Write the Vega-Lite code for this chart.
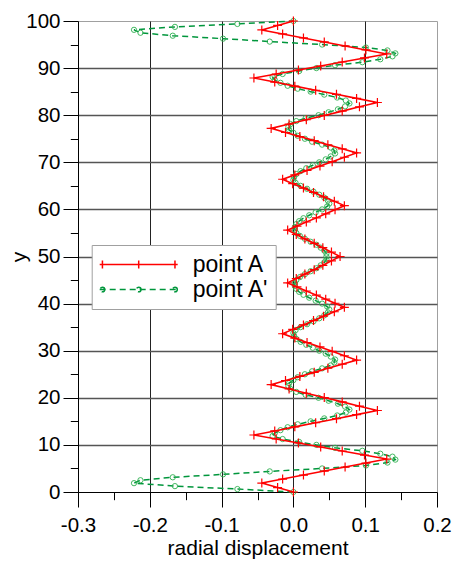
{
"$schema": "https://vega.github.io/schema/vega-lite/v6.json",
"autosize": {"type": "none"},
"padding": {"left": 78, "top": 21, "right": 19, "bottom": 70},
"width": 359,
"height": 471,
"config": {
  "font": "Liberation Sans",
  "view": {"stroke": "#a0a0a0"},
  "axis": {"domainColor": "black", "tickColor": "black", "gridColor": "black", "labelColor": "black", "titleColor": "black", "labelFontSize": 20.5, "titleFontSize": 21, "titleFontWeight": "normal", "labelFlush": false, "labelOverlap": false, "tickWidth": 1, "domainWidth": 1}
},
"data": {"values": [
{"s":"point A","y":0,"x":0},{"s":"point A","y":0.95,"x":-0.022},{"s":"point A","y":1.9,"x":-0.044},
{"s":"point A","y":2.75,"x":-0.015},{"s":"point A","y":3.6,"x":0.014},{"s":"point A","y":4.45,"x":0.043},{"s":"point A","y":5.3,"x":0.072},{"s":"point A","y":6.15,"x":0.101},{"s":"point A","y":7.0,"x":0.130},
{"s":"point A","y":7.85,"x":0.099},{"s":"point A","y":8.7,"x":0.068},{"s":"point A","y":9.55,"x":0.038},{"s":"point A","y":10.4,"x":0.007},{"s":"point A","y":11.25,"x":-0.024},{"s":"point A","y":12.1,"x":-0.055},
{"s":"point A","y":12.97,"x":-0.026},{"s":"point A","y":13.83,"x":0.002},{"s":"point A","y":14.7,"x":0.031},{"s":"point A","y":15.57,"x":0.060},{"s":"point A","y":16.43,"x":0.088},{"s":"point A","y":17.3,"x":0.117},
{"s":"point A","y":18.22,"x":0.092},{"s":"point A","y":19.13,"x":0.068},{"s":"point A","y":20.05,"x":0.043},{"s":"point A","y":20.97,"x":0.018},{"s":"point A","y":21.88,"x":-0.006},{"s":"point A","y":22.8,"x":-0.031},
{"s":"point A","y":23.67,"x":-0.011},{"s":"point A","y":24.53,"x":0.009},{"s":"point A","y":25.4,"x":0.029},{"s":"point A","y":26.27,"x":0.048},{"s":"point A","y":27.13,"x":0.068},{"s":"point A","y":28.0,"x":0.088},
{"s":"point A","y":28.93,"x":0.071},{"s":"point A","y":29.87,"x":0.054},{"s":"point A","y":30.8,"x":0.037},{"s":"point A","y":31.73,"x":0.019},{"s":"point A","y":32.67,"x":0.002},{"s":"point A","y":33.6,"x":-0.015},
{"s":"point A","y":34.53,"x":-0.001},{"s":"point A","y":35.47,"x":0.014},{"s":"point A","y":36.4,"x":0.028},{"s":"point A","y":37.33,"x":0.042},{"s":"point A","y":38.27,"x":0.057},{"s":"point A","y":39.2,"x":0.071},
{"s":"point A","y":40.07,"x":0.058},{"s":"point A","y":40.93,"x":0.045},{"s":"point A","y":41.8,"x":0.032},{"s":"point A","y":42.67,"x":0.018},{"s":"point A","y":43.53,"x":0.005},{"s":"point A","y":44.4,"x":-0.008},
{"s":"point A","y":45.33,"x":0.004},{"s":"point A","y":46.27,"x":0.016},{"s":"point A","y":47.2,"x":0.029},{"s":"point A","y":48.13,"x":0.041},{"s":"point A","y":49.07,"x":0.053},{"s":"point A","y":50,"x":0.065},
{"s":"point A","y":50.93,"x":0.053},{"s":"point A","y":51.87,"x":0.041},{"s":"point A","y":52.8,"x":0.029},{"s":"point A","y":53.73,"x":0.016},{"s":"point A","y":54.67,"x":0.004},{"s":"point A","y":55.6,"x":-0.008},
{"s":"point A","y":56.47,"x":0.005},{"s":"point A","y":57.33,"x":0.018},{"s":"point A","y":58.2,"x":0.032},{"s":"point A","y":59.07,"x":0.045},{"s":"point A","y":59.93,"x":0.058},{"s":"point A","y":60.8,"x":0.071},
{"s":"point A","y":61.73,"x":0.057},{"s":"point A","y":62.67,"x":0.042},{"s":"point A","y":63.6,"x":0.028},{"s":"point A","y":64.53,"x":0.014},{"s":"point A","y":65.47,"x":-0.001},{"s":"point A","y":66.4,"x":-0.015},
{"s":"point A","y":67.33,"x":0.002},{"s":"point A","y":68.27,"x":0.019},{"s":"point A","y":69.2,"x":0.037},{"s":"point A","y":70.13,"x":0.054},{"s":"point A","y":71.07,"x":0.071},{"s":"point A","y":72.0,"x":0.088},
{"s":"point A","y":72.87,"x":0.068},{"s":"point A","y":73.73,"x":0.048},{"s":"point A","y":74.6,"x":0.029},{"s":"point A","y":75.47,"x":0.009},{"s":"point A","y":76.33,"x":-0.011},{"s":"point A","y":77.2,"x":-0.031},
{"s":"point A","y":78.12,"x":-0.006},{"s":"point A","y":79.03,"x":0.018},{"s":"point A","y":79.95,"x":0.043},{"s":"point A","y":80.87,"x":0.068},{"s":"point A","y":81.78,"x":0.092},{"s":"point A","y":82.7,"x":0.117},
{"s":"point A","y":83.57,"x":0.088},{"s":"point A","y":84.43,"x":0.060},{"s":"point A","y":85.3,"x":0.031},{"s":"point A","y":86.17,"x":0.002},{"s":"point A","y":87.03,"x":-0.026},{"s":"point A","y":87.9,"x":-0.055},
{"s":"point A","y":88.75,"x":-0.024},{"s":"point A","y":89.6,"x":0.007},{"s":"point A","y":90.45,"x":0.038},{"s":"point A","y":91.3,"x":0.068},{"s":"point A","y":92.15,"x":0.099},{"s":"point A","y":93.0,"x":0.130},
{"s":"point A","y":93.85,"x":0.101},{"s":"point A","y":94.7,"x":0.072},{"s":"point A","y":95.55,"x":0.043},{"s":"point A","y":96.4,"x":0.014},{"s":"point A","y":97.25,"x":-0.015},{"s":"point A","y":98.1,"x":-0.044},
{"s":"point A","y":99.05,"x":-0.022},{"s":"point A","y":100,"x":0},
{"s":"point A'","y":0,"x":0},{"s":"point A'","y":0.625,"x":-0.078},{"s":"point A'","y":1.25,"x":-0.165},{"s":"point A'","y":1.875,"x":-0.222},{"s":"point A'","y":2.5,"x":-0.213},{"s":"point A'","y":3.125,"x":-0.168},{"s":"point A'","y":3.75,"x":-0.098},{"s":"point A'","y":4.375,"x":-0.033},
{"s":"point A'","y":5.0,"x":0.040},{"s":"point A'","y":5.625,"x":0.101},{"s":"point A'","y":6.25,"x":0.131},{"s":"point A'","y":6.875,"x":0.142},{"s":"point A'","y":7.5,"x":0.138},{"s":"point A'","y":8.125,"x":0.121},{"s":"point A'","y":8.75,"x":0.096},{"s":"point A'","y":9.375,"x":0.058},
{"s":"point A'","y":10.0,"x":0.032},{"s":"point A'","y":10.625,"x":0.008},{"s":"point A'","y":11.25,"x":-0.015},{"s":"point A'","y":11.875,"x":-0.029},{"s":"point A'","y":12.5,"x":-0.026},{"s":"point A'","y":13.125,"x":-0.018},{"s":"point A'","y":13.75,"x":-0.008},{"s":"point A'","y":14.375,"x":0.006},
{"s":"point A'","y":15.0,"x":0.024},{"s":"point A'","y":15.625,"x":0.043},{"s":"point A'","y":16.25,"x":0.061},{"s":"point A'","y":16.875,"x":0.073},{"s":"point A'","y":17.5,"x":0.078},{"s":"point A'","y":18.125,"x":0.072},{"s":"point A'","y":18.75,"x":0.062},{"s":"point A'","y":19.375,"x":0.049},
{"s":"point A'","y":20.0,"x":0.035},{"s":"point A'","y":20.625,"x":0.017},{"s":"point A'","y":21.25,"x":0.004},{"s":"point A'","y":21.875,"x":-0.004},{"s":"point A'","y":22.5,"x":-0.007},{"s":"point A'","y":23.125,"x":-0.006},{"s":"point A'","y":23.75,"x":0.000},{"s":"point A'","y":24.375,"x":0.006},
{"s":"point A'","y":25.0,"x":0.016},{"s":"point A'","y":25.625,"x":0.026},{"s":"point A'","y":26.25,"x":0.040},{"s":"point A'","y":26.875,"x":0.052},{"s":"point A'","y":27.5,"x":0.057},{"s":"point A'","y":28.125,"x":0.058},{"s":"point A'","y":28.75,"x":0.052},{"s":"point A'","y":29.375,"x":0.045},
{"s":"point A'","y":30.0,"x":0.036},{"s":"point A'","y":30.625,"x":0.027},{"s":"point A'","y":31.25,"x":0.018},{"s":"point A'","y":31.875,"x":0.010},{"s":"point A'","y":32.5,"x":0.004},{"s":"point A'","y":33.125,"x":0.001},{"s":"point A'","y":33.75,"x":0.000},{"s":"point A'","y":34.375,"x":0.003},
{"s":"point A'","y":35.0,"x":0.010},{"s":"point A'","y":35.625,"x":0.019},{"s":"point A'","y":36.25,"x":0.028},{"s":"point A'","y":36.875,"x":0.036},{"s":"point A'","y":37.5,"x":0.043},{"s":"point A'","y":38.125,"x":0.048},{"s":"point A'","y":38.75,"x":0.050},{"s":"point A'","y":39.375,"x":0.047},
{"s":"point A'","y":40.0,"x":0.040},{"s":"point A'","y":40.625,"x":0.031},{"s":"point A'","y":41.25,"x":0.022},{"s":"point A'","y":41.875,"x":0.014},{"s":"point A'","y":42.5,"x":0.008},{"s":"point A'","y":43.125,"x":0.004},{"s":"point A'","y":43.75,"x":0.002},{"s":"point A'","y":44.375,"x":0.002},
{"s":"point A'","y":45.0,"x":0.004},{"s":"point A'","y":45.625,"x":0.009},{"s":"point A'","y":46.25,"x":0.016},{"s":"point A'","y":46.875,"x":0.024},{"s":"point A'","y":47.5,"x":0.032},{"s":"point A'","y":48.125,"x":0.038},{"s":"point A'","y":48.75,"x":0.043},{"s":"point A'","y":49.375,"x":0.046},
{"s":"point A'","y":50.0,"x":0.046},
{"s":"point A'","y":50.625,"x":0.046},{"s":"point A'","y":51.25,"x":0.043},{"s":"point A'","y":51.875,"x":0.038},{"s":"point A'","y":52.5,"x":0.032},{"s":"point A'","y":53.125,"x":0.024},{"s":"point A'","y":53.75,"x":0.016},{"s":"point A'","y":54.375,"x":0.009},{"s":"point A'","y":55.0,"x":0.004},
{"s":"point A'","y":55.625,"x":0.002},{"s":"point A'","y":56.25,"x":0.002},{"s":"point A'","y":56.875,"x":0.004},{"s":"point A'","y":57.5,"x":0.008},{"s":"point A'","y":58.125,"x":0.014},{"s":"point A'","y":58.75,"x":0.022},{"s":"point A'","y":59.375,"x":0.031},{"s":"point A'","y":60.0,"x":0.040},
{"s":"point A'","y":60.625,"x":0.047},{"s":"point A'","y":61.25,"x":0.050},{"s":"point A'","y":61.875,"x":0.048},{"s":"point A'","y":62.5,"x":0.043},{"s":"point A'","y":63.125,"x":0.036},{"s":"point A'","y":63.75,"x":0.028},{"s":"point A'","y":64.375,"x":0.019},{"s":"point A'","y":65.0,"x":0.010},
{"s":"point A'","y":65.625,"x":0.003},{"s":"point A'","y":66.25,"x":0.000},{"s":"point A'","y":66.875,"x":0.001},{"s":"point A'","y":67.5,"x":0.004},{"s":"point A'","y":68.125,"x":0.010},{"s":"point A'","y":68.75,"x":0.018},{"s":"point A'","y":69.375,"x":0.027},{"s":"point A'","y":70.0,"x":0.036},
{"s":"point A'","y":70.625,"x":0.045},{"s":"point A'","y":71.25,"x":0.052},{"s":"point A'","y":71.875,"x":0.058},{"s":"point A'","y":72.5,"x":0.057},{"s":"point A'","y":73.125,"x":0.052},{"s":"point A'","y":73.75,"x":0.040},{"s":"point A'","y":74.375,"x":0.026},{"s":"point A'","y":75.0,"x":0.016},
{"s":"point A'","y":75.625,"x":0.006},{"s":"point A'","y":76.25,"x":0.000},{"s":"point A'","y":76.875,"x":-0.006},{"s":"point A'","y":77.5,"x":-0.007},{"s":"point A'","y":78.125,"x":-0.004},{"s":"point A'","y":78.75,"x":0.004},{"s":"point A'","y":79.375,"x":0.017},{"s":"point A'","y":80.0,"x":0.035},
{"s":"point A'","y":80.625,"x":0.049},{"s":"point A'","y":81.25,"x":0.062},{"s":"point A'","y":81.875,"x":0.072},{"s":"point A'","y":82.5,"x":0.078},{"s":"point A'","y":83.125,"x":0.073},{"s":"point A'","y":83.75,"x":0.061},{"s":"point A'","y":84.375,"x":0.043},{"s":"point A'","y":85.0,"x":0.024},
{"s":"point A'","y":85.625,"x":0.006},{"s":"point A'","y":86.25,"x":-0.008},{"s":"point A'","y":86.875,"x":-0.018},{"s":"point A'","y":87.5,"x":-0.026},{"s":"point A'","y":88.125,"x":-0.029},{"s":"point A'","y":88.75,"x":-0.015},{"s":"point A'","y":89.375,"x":0.008},{"s":"point A'","y":90.0,"x":0.032},
{"s":"point A'","y":90.625,"x":0.058},{"s":"point A'","y":91.25,"x":0.096},{"s":"point A'","y":91.875,"x":0.121},{"s":"point A'","y":92.5,"x":0.138},{"s":"point A'","y":93.125,"x":0.142},{"s":"point A'","y":93.75,"x":0.131},{"s":"point A'","y":94.375,"x":0.101},{"s":"point A'","y":95.0,"x":0.040},
{"s":"point A'","y":95.625,"x":-0.033},{"s":"point A'","y":96.25,"x":-0.098},{"s":"point A'","y":96.875,"x":-0.168},{"s":"point A'","y":97.5,"x":-0.213},{"s":"point A'","y":98.125,"x":-0.222},{"s":"point A'","y":98.75,"x":-0.165},{"s":"point A'","y":99.375,"x":-0.078},{"s":"point A'","y":100,"x":0}
]},
"encoding": {
  "x": {"field": "x", "type": "quantitative", "scale": {"domain": [-0.3, 0.2], "nice": false, "zero": false},
    "axis": {"title": "radial displacement", "values": [-0.3,-0.25,-0.2,-0.15,-0.1,-0.05,0,0.05,0.1,0.15,0.2],
      "labelExpr": "abs(datum.value*10-round(datum.value*10))<0.001 ? replace(format(datum.value, '.1f'), '\u2212', '-') : ''",
      "tickSize": {"condition": {"test": "abs(datum.value*10-round(datum.value*10))<0.001", "value": 15}, "value": 7.7},
      "gridOpacity": {"condition": {"test": "abs(datum.value*10-round(datum.value*10))<0.001 && datum.value > -0.29 && datum.value < 0.19", "value": 1}, "value": 0},
      "gridColor": "#222", "labelPadding": 8, "titlePadding": 2}},
  "y": {"field": "y", "type": "quantitative", "scale": {"domain": [0, 100], "nice": false, "zero": false},
    "axis": {"title": "y", "values": [0,5,10,15,20,25,30,35,40,45,50,55,60,65,70,75,80,85,90,95,100],
      "labelExpr": "datum.value % 10 === 0 ? datum.label : ''",
      "tickSize": {"condition": {"test": "datum.value % 10 === 0", "value": 15}, "value": 7.7},
      "gridOpacity": {"condition": {"test": "datum.value % 10 === 0 && datum.value > 1 && datum.value < 99", "value": 1}, "value": 0},
      "gridColor": "#555", "gridWidth": 1.3, "labelPadding": 3, "titlePadding": -4}},
  "order": {"field": "y", "type": "quantitative"}
},
"layer": [
  {"transform": [{"filter": "datum.s === \"point A'\""}],
   "mark": {"type": "line", "strokeWidth": 1.5, "strokeDash": [6, 4]},
   "encoding": {"color": {"field": "s", "type": "nominal", "scale": {"domain": ["point A", "point A'"], "range": ["#ff0000", "#00963c"]},
     "legend": {"title": null, "orient": "none", "legendX": 13.7, "legendY": 224, "fillColor": "white", "strokeColor": "#a0a0a0", "padding": 7, "symbolSize": 6084, "clipHeight": 25, "rowPadding": 0, "labelFontSize": 23, "labelColor": "black", "labelOffset": 14, "symbolStrokeWidth": 1.5,
       "encode": {"symbols": {"update": {
         "shape": {"signal": "datum.value === 'point A' ? 'M-1,0L1,0M-0.93,-0.1L-0.93,0.1M0,-0.1L0,0.1M0.93,-0.1L0.93,0.1' : 'M-1,0L1,0M-0.87,0A0.06,0.06 0 1,0 -0.99,0A0.06,0.06 0 1,0 -0.87,0M0.06,0A0.06,0.06 0 1,0 -0.06,0A0.06,0.06 0 1,0 0.06,0M0.99,0A0.06,0.06 0 1,0 0.87,0A0.06,0.06 0 1,0 0.99,0'"},
         "strokeDash": {"signal": "datum.value === 'point A' ? [1, 0] : [6, 4]"},
         "fill": {"value": "transparent"}}}}}}}},
  {"transform": [{"filter": "datum.s === \"point A'\""}],
   "mark": {"type": "point", "shape": "circle", "filled": false, "size": 28, "strokeWidth": 0.9, "color": "#30b050", "opacity": 1}},
  {"transform": [{"filter": "datum.s === 'point A'"}],
   "mark": {"type": "line", "strokeWidth": 1.6},
   "encoding": {"color": {"field": "s", "type": "nominal"}}},
  {"transform": [{"filter": "datum.s === 'point A'"}],
   "mark": {"type": "point", "shape": "M-1,0L1,0M0,-1L0,1", "filled": false, "size": 81, "strokeWidth": 1.2, "color": "#ff0000", "opacity": 1}}
]
}
